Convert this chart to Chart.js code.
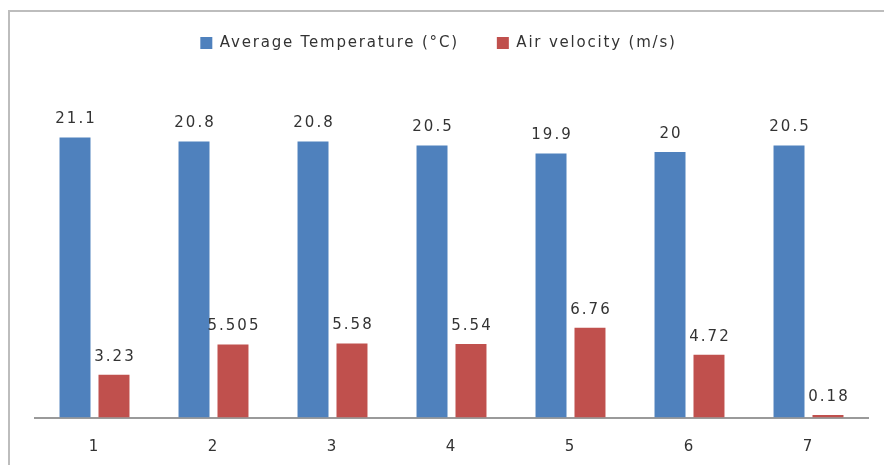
<!DOCTYPE html>
<html>
<head>
<meta charset="utf-8">
<script src="https://cdn.jsdelivr.net/npm/chart.js@4/dist/chart.umd.min.js"></script>
<style>
  html, body { margin: 0; padding: 0; background: #ffffff; }
  #wrap { width: 884px; height: 465px; position: relative; }
</style>
</head>
<body>
<div id="wrap"><canvas id="chart" width="884" height="465"></canvas></div>
<script>
// Measurement points and the two recorded series
const categories = ['1', '2', '3', '4', '5', '6', '7'];
const avgTemperature = [21.1, 20.8, 20.8, 20.5, 19.9, 20, 20.5];
const airVelocity = [3.23, 5.505, 5.58, 5.54, 6.76, 4.72, 0.18];
const seriesNames = ['Average Temperature (°C)', 'Air velocity (m/s)'];

const FONT = 'DejaVu Sans';

// Light grey frame along the top and left edges of the canvas
const framePlugin = {
  id: 'frame',
  beforeDraw(chart) {
    const ctx = chart.ctx;
    ctx.save();
    ctx.strokeStyle = '#bdbdbd';
    ctx.lineWidth = 2;
    ctx.beginPath();
    ctx.moveTo(9, chart.height);
    ctx.lineTo(9, 11);
    ctx.lineTo(chart.width, 11);
    ctx.stroke();
    ctx.restore();
  }
};

// Wider tracking for legend text (context state is reset on resize),
// and the legend block nudged a little left of centre
const spacingPlugin = {
  id: 'spacing',
  beforeLayout(chart) { chart.ctx.letterSpacing = '1.8px'; },
  afterLayout(chart) {
    chart.legend.left -= 13;
    chart.legend.right -= 13;
  },
  beforeDraw(chart) { chart.ctx.letterSpacing = '1.8px'; },
  beforeDatasetsDraw(chart) { chart.ctx.letterSpacing = '0px'; }
};

// Value labels above each bar
const valueLabels = {
  id: 'valueLabels',
  afterDatasetsDraw(chart) {
    const ctx = chart.ctx;
    ctx.save();
    ctx.letterSpacing = '2px';
    ctx.font = '15px "' + FONT + '"';
    ctx.fillStyle = '#333333';
    ctx.textAlign = 'center';
    ctx.textBaseline = 'alphabetic';
    chart.data.datasets.forEach((ds, di) => {
      const meta = chart.getDatasetMeta(di);
      meta.data.forEach((bar, i) => {
        ctx.fillText(String(ds.data[i]), bar.x + 1, bar.y - 14);
      });
    });
    ctx.restore();
  }
};

new Chart(document.getElementById('chart'), {
  type: 'bar',
  data: {
    labels: categories,
    datasets: [
      {
        label: seriesNames[0],
        data: avgTemperature,
        backgroundColor: '#4F81BD',
        borderWidth: 0,
        categoryPercentage: 0.655,
        barPercentage: 0.795
      },
      {
        label: seriesNames[1],
        data: airVelocity,
        backgroundColor: '#C0504D',
        borderWidth: 0,
        categoryPercentage: 0.655,
        barPercentage: 0.795
      }
    ]
  },
  options: {
    responsive: false,
    animation: false,
    devicePixelRatio: 1,
    layout: { padding: { top: -2.5, left: 35, right: 16, bottom: -12.5 } },
    plugins: {
      legend: {
        display: true,
        position: 'top',
        labels: {
          boxWidth: 12,
          boxHeight: 12,
          padding: 38,
          color: '#333333',
          font: { family: FONT, size: 15 }
        }
      },
      tooltip: { enabled: false }
    },
    scales: {
      x: {
        grid: { display: false, drawTicks: false },
        border: { display: true, color: '#9a9a9a', width: 2 },
        ticks: {
          color: '#333333',
          padding: 21,
          font: { family: FONT, size: 15 }
        }
      },
      y: {
        display: false,
        min: 0,
        max: 26.9
      }
    }
  },
  plugins: [framePlugin, spacingPlugin, valueLabels]
});
</script>
</body>
</html>
